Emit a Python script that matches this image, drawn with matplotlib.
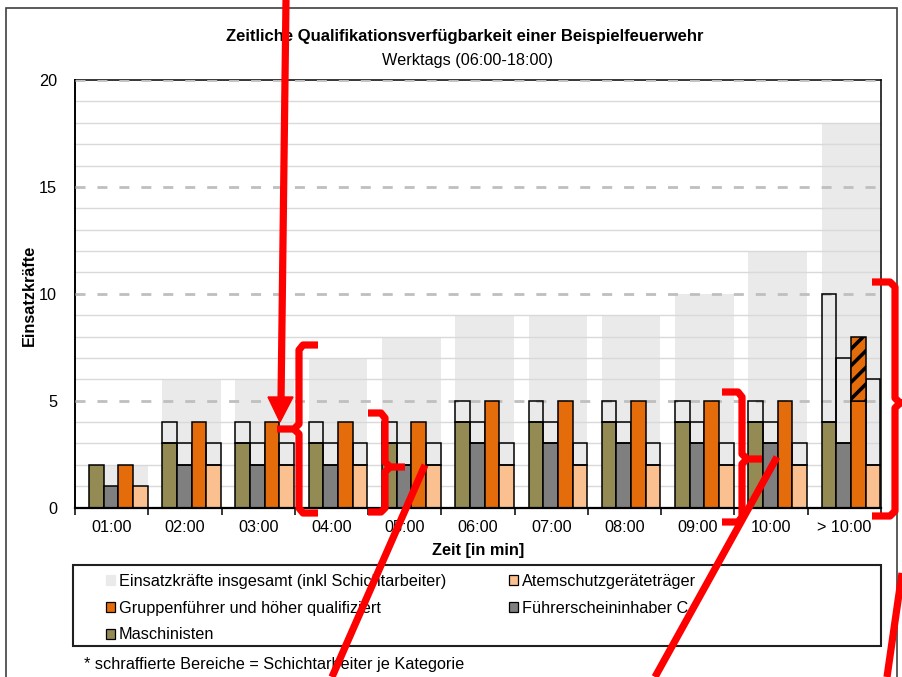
import matplotlib

matplotlib.use("Agg")

import matplotlib.pyplot as plt
import numpy as np
from matplotlib.lines import Line2D
from matplotlib.patches import Patch, Polygon, Rectangle

plt.rcParams["font.family"] = ["Liberation Sans", "DejaVu Sans"]
plt.rcParams["hatch.linewidth"] = 2.6

# ---- Daten ----
zeiten = ["01:00", "02:00", "03:00", "04:00", "05:00", "06:00",
          "07:00", "08:00", "09:00", "10:00", "> 10:00"]
insgesamt = [2, 6, 6, 7, 8, 9, 9, 9, 10, 12, 18]

# farbiger Anteil / Gesamthöhe inkl. hellem Kasten darüber
maschinisten = [2, 3, 3, 3, 3, 4, 4, 4, 4, 4, 4]
maschinisten_max = [2, 4, 4, 4, 4, 5, 5, 5, 5, 5, 10]
fuehrerschein = [1, 2, 2, 2, 2, 3, 3, 3, 3, 3, 3]
fuehrerschein_max = [1, 3, 3, 3, 3, 4, 4, 4, 4, 4, 7]
gruppenfuehrer = [2, 4, 4, 4, 4, 5, 5, 5, 5, 5, 5]
gruppenfuehrer_schicht = [0, 0, 0, 0, 0, 0, 0, 0, 0, 0, 3]
atemschutz = [1, 2, 2, 2, 2, 2, 2, 2, 2, 2, 2]
atemschutz_max = [1, 3, 3, 3, 3, 3, 3, 3, 3, 3, 6]

FARBE_GESAMT = "#EAEAEA"
FARBE_MASCH = "#948A54"
FARBE_FUEHR = "#7F7F7F"
FARBE_GRUPPE = "#E46C0A"
FARBE_ATEM = "#FAC090"

W, H = 903, 677


def fx(x):
    return x / W


def fy(y):
    return 1 - y / H


fig = plt.figure(figsize=(W / 100, H / 100), dpi=100)
ax = fig.add_axes([fx(75), fy(507.5), fx(881) - fx(75), fy(80) - fy(507.5)])

x = np.arange(len(zeiten))
bw = 0.2

ax.bar(x + 0.09, insgesamt, width=0.8, color=FARBE_GESAMT, linewidth=0, zorder=1)

for v in range(1, 20):
    if v % 5:
        ax.axhline(v, color="#D9D9D9", lw=1.0, zorder=1.5)
for v in (5, 10, 15, 20):
    ax.axhline(v, color="#BFBFBF", lw=2.0, ls=(0, (3.6, 4.3)), zorder=1.6)

kw = dict(width=bw, edgecolor="black", linewidth=1.1, zorder=3)
serien = [
    (-0.21, maschinisten, maschinisten_max, FARBE_MASCH),
    (-0.01, fuehrerschein, fuehrerschein_max, FARBE_FUEHR),
    (0.19, gruppenfuehrer, gruppenfuehrer, FARBE_GRUPPE),
    (0.39, atemschutz, atemschutz_max, FARBE_ATEM),
]
for off, basis, gesamt, farbe in serien:
    basis = np.array(basis)
    rest = np.array(gesamt) - basis
    ax.bar(x + off, basis, color=farbe, **kw)
    m = rest > 0
    ax.bar(x[m] + off, rest[m], bottom=basis[m], facecolor="none", **kw)

schicht = np.array(gruppenfuehrer_schicht)
m = schicht > 0
ax.bar(x[m] + 0.19, schicht[m], bottom=np.array(gruppenfuehrer)[m],
       color=FARBE_GRUPPE, hatch="//", **kw)

ax.set_xlim(-0.5, len(zeiten) - 0.5)
ax.set_ylim(0, 20)
ax.set_xticks(x)
ax.set_xticklabels(zeiten)
ax.set_xticks(np.arange(len(zeiten) + 1) - 0.5, minor=True)
ax.tick_params(axis="x", which="major", length=0, pad=9, labelsize=11.7)
ax.tick_params(axis="x", which="minor", length=5, width=1.1, direction="out")
ax.set_yticks([0, 5, 10, 15, 20])
ax.tick_params(axis="y", length=0, pad=13, labelsize=11.7)
for s in ax.spines.values():
    s.set_color("black")
    s.set_linewidth(1.1)
    s.set_zorder(1.55)
ax.spines["bottom"].set_linewidth(1.6)
ax.spines["bottom"].set_zorder(4)
ax.spines["left"].set_linewidth(1.4)

fig.text(fx(465), fy(36), "Zeitliche Qualifikationsverfügbarkeit einer Beispielfeuerwehr",
         ha="center", va="center", fontsize=12, fontweight="bold")
fig.text(fx(468), fy(60), "Werktags (06:00-18:00)", ha="center", va="center", fontsize=11.7)
fig.text(fx(29), fy(295), "Einsatzkräfte", ha="center", va="center", rotation=90,
         fontsize=11.7, fontweight="bold")
fig.text(fx(478), fy(551), "Zeit [in min]", ha="center", va="center",
         fontsize=11.7, fontweight="bold")
fig.text(fx(84), fy(664), "* schraffierte Bereiche = Schichtarbeiter je Kategorie",
         ha="left", va="center", fontsize=11.7)

# Legende
def patch(farbe, kante="black"):
    return Patch(facecolor=farbe, edgecolor=kante, linewidth=0.9)


leg_kw = dict(loc="upper left", frameon=False, fontsize=11.7, handlelength=0.55,
              handleheight=0.55, handletextpad=0.25, labelspacing=0.72,
              borderpad=0, borderaxespad=0)
fig.legend([patch(FARBE_GESAMT, FARBE_GESAMT), patch(FARBE_GRUPPE), patch(FARBE_MASCH)],
           ["Einsatzkräfte insgesamt (inkl Schichtarbeiter)",
            "Gruppenführer und höher qualifiziert", "Maschinisten"],
           bbox_to_anchor=(fx(106), fy(574)), **leg_kw)
fig.legend([patch(FARBE_ATEM), patch(FARBE_FUEHR)],
           ["Atemschutzgeräteträger", "Führerscheininhaber C"],
           bbox_to_anchor=(fx(509), fy(574)), **leg_kw)
fig.patches.append(Rectangle((fx(73), fy(646)), fx(881) - fx(73), fy(565) - fy(646),
                             transform=fig.transFigure, fill=False,
                             edgecolor="#202020", linewidth=1.5))

# Rahmen um das Diagramm
fig.patches.append(Rectangle((fx(6), fy(720)), fx(897) - fx(6), fy(8) - fy(720),
                             transform=fig.transFigure, fill=False,
                             edgecolor="#404040", linewidth=1.2))

# rote Markierungen (Overlay)
markierungen = [
    [(286, 0), (281, 402)],
    [(318, 345), (303, 345), (299, 350), (299, 424), (294, 429), (277, 429)],
    [(294, 429), (299, 434), (299, 508), (303, 513), (318, 513)],
    [(368, 413), (381, 413), (385, 418), (385, 462), (390, 467), (405, 467)],
    [(390, 467), (385, 472), (385, 508), (381, 512), (368, 512)],
    [(425, 465), (332, 677)],
    [(722, 392), (738, 392), (742, 397), (742, 454), (747, 459), (762, 459)],
    [(747, 459), (742, 464), (742, 517), (738, 522), (722, 522)],
    [(777, 457), (655, 677)],
    [(872, 282), (890, 282), (895, 287), (895, 398), (900, 403), (903, 403)],
    [(900, 403), (895, 408), (895, 511), (890, 516), (872, 516)],
    [(902, 573), (887, 677)],
]
for pts in markierungen:
    xs = [fx(p[0]) for p in pts]
    ys = [fy(p[1]) for p in pts]
    fig.lines.append(Line2D(xs, ys, transform=fig.transFigure, color="#FF0000",
                            lw=5.2, solid_joinstyle="round", solid_capstyle="butt",
                            zorder=10))
fig.patches.append(Polygon([(fx(268), fy(397)), (fx(293), fy(397)), (fx(280), fy(422))],
                           closed=True, transform=fig.transFigure, color="#FF0000",
                           zorder=10))

fig.savefig("out.png", dpi=100)
